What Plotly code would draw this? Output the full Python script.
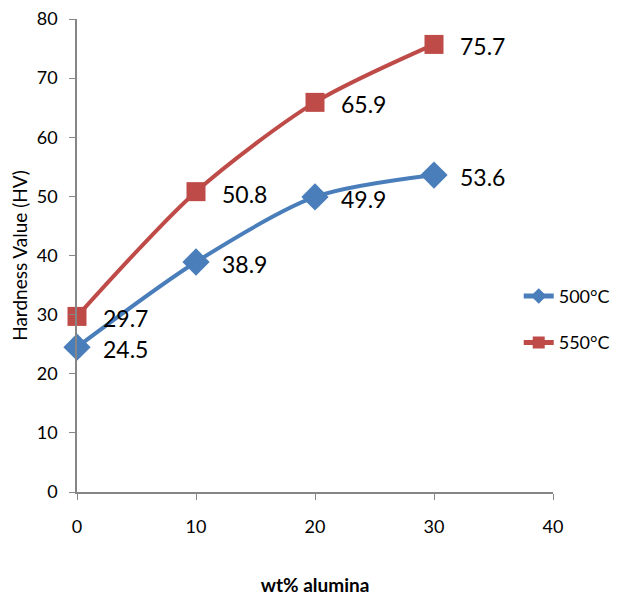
import plotly.graph_objects as go

# Alumina content (wt%) and measured hardness for two sintering temperatures
alumina_wt = [0, 10, 20, 30]
hardness_500 = [24.5, 38.9, 49.9, 53.6]
hardness_550 = [29.7, 50.8, 65.9, 75.7]
series_names = ["500°C", "550°C"]
x_ticks = [0, 10, 20, 30, 40]
y_ticks = [0, 10, 20, 30, 40, 50, 60, 70, 80]

FONT = "Lato, Open Sans, sans-serif"
BLUE = "#4A7EBB"
RED = "#BE4B48"
AXIS = "#868686"

fig = go.Figure()

fig.add_trace(go.Scatter(
    x=alumina_wt, y=hardness_500, name=series_names[0], legendgroup="a",
    mode="lines+markers", cliponaxis=False,
    line=dict(color=BLUE, width=4, shape="spline", smoothing=0.8),
    marker=dict(symbol="diamond", size=21, color=BLUE),
))
fig.add_trace(go.Scatter(
    x=alumina_wt, y=hardness_550, name=series_names[1], legendgroup="b",
    mode="lines+markers", cliponaxis=False,
    line=dict(color=RED, width=4, shape="spline", smoothing=0.8),
    marker=dict(symbol="square", size=19, color=RED),
))

# value labels to the right of each point
for ys in (hardness_500, hardness_550):
    for xv, yv in zip(alumina_wt, ys):
        fig.add_annotation(
            x=xv, y=yv, text=f"{yv:.1f}", showarrow=False,
            xanchor="left", yanchor="middle", xshift=24, yshift=-2,
            font=dict(family=FONT, size=23, color="black"),
        )

fig.update_layout(
    width=626, height=598,
    margin=dict(l=77, r=73, t=19, b=106, autoexpand=False),
    plot_bgcolor="white", paper_bgcolor="white",
    font=dict(family=FONT, color="black"),
    showlegend=True,
    legend=dict(
        x=0.928, y=0.365, xanchor="left", yanchor="middle",
        font=dict(family=FONT, size=18, color="black"),
        bgcolor="rgba(0,0,0,0)", traceorder="grouped", tracegroupgap=20,
        itemsizing="constant",
    ),
)

fig.update_xaxes(
    range=[0, 40], tickvals=x_ticks, ticks="outside", ticklen=6,
    tickcolor=AXIS, showline=True, linecolor=AXIS, linewidth=1.5,
    showgrid=False, zeroline=False,
    tickfont=dict(family=FONT, size=18), ticklabelstandoff=12,
    title=dict(text="<b>wt% alumina</b>", font=dict(family=FONT, size=19), standoff=42),
)
fig.update_yaxes(
    range=[0, 80], tickvals=y_ticks, ticks="outside", ticklen=6,
    tickcolor=AXIS, showline=True, linecolor=AXIS, linewidth=1.5,
    showgrid=False, zeroline=False,
    tickfont=dict(family=FONT, size=18), ticklabelstandoff=8,
    title=dict(text="Hardness Value (HV)", font=dict(family=FONT, size=19), standoff=4),
)

fig.write_html("out.html")
